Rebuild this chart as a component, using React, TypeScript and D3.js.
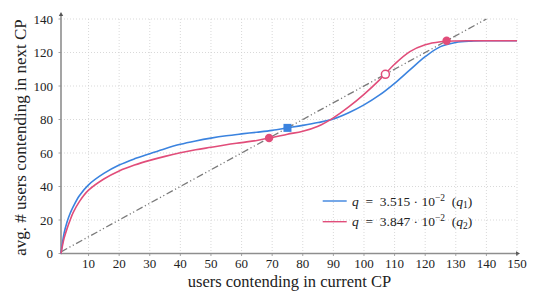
import React from "react";
import * as d3 from "d3";

const xValues = [1, 2, 3, 4, 5, 7, 10, 15, 20, 25, 30, 35, 40, 45, 50, 55, 60, 65, 70, 75, 80, 85, 90, 95, 100, 105, 110, 115, 120, 125, 130, 135, 140, 145, 150];
const q1Values = [0, 12, 19, 24, 28, 34.5, 41, 47.8, 52.8, 56.5, 59.6, 62.6, 65.2, 67.2, 68.9, 70.3, 71.4, 72.4, 73.5, 75, 76.5, 78.2, 80.3, 84, 88.7, 94.5, 101.6, 109.6, 117.5, 123.5, 126, 126.8, 127, 127, 127];
const q2Values = [0, 9, 15, 20, 24.5, 31, 37.8, 44.5, 49.3, 52.8, 55.6, 58, 60.1, 61.9, 63.4, 64.9, 66.2, 67.5, 69.2, 71.2, 73, 76, 81, 87.5, 95, 103.5, 113, 120.5, 124.6, 126.4, 126.9, 127, 127, 127, 127];
const diagonal = [1, 140];
const q1Stable = [75];
const q2Stable = [69, 127];
const q2Unstable = [107];
const xTicks = [10, 20, 30, 40, 50, 60, 70, 80, 90, 100, 110, 120, 130, 140, 150];
const yTicks = [0, 20, 40, 60, 80, 100, 120, 140];
const legendLabels = ["3.515", "3.847"];

const BLUE = "#3b83df";
const PINK = "#e14d7a";
const FONT = "'Liberation Serif', 'Times New Roman', serif";

export default function App() {
  const x = d3.scaleLinear().domain([1, 150]).range([61, 517]);
  const y = d3.scaleLinear().domain([0, 140]).range([253.5, 19]);

  const line = d3
    .line<[number, number]>()
    .x((d) => x(d[0]))
    .y((d) => y(d[1]))
    .curve(d3.curveCatmullRom.alpha(0.5));

  const s1 = xValues.map((v, i) => [v, q1Values[i]] as [number, number]);
  const s2 = xValues.map((v, i) => [v, q2Values[i]] as [number, number]);
  const diag = d3.line<number>().x((d) => x(d)).y((d) => y(d))(diagonal) || "";

  const x0 = x(1);
  const xEnd = x(150);
  const y0 = y(0);
  const yTop = y(140);

  return (
    <svg
      width={540}
      height={304}
      style={{ position: "absolute", left: 0, top: 0, background: "#fff" }}
    >
      {/* grid */}
      {xTicks.map((t) => (
        <line key={"gx" + t} x1={x(t)} x2={x(t)} y1={yTop} y2={y0} stroke="#cfcfcf" strokeWidth={0.8} strokeDasharray="1,2" />
      ))}
      {yTicks.filter((t) => t > 0).map((t) => (
        <line key={"gy" + t} x1={x0} x2={xEnd} y1={y(t)} y2={y(t)} stroke="#cfcfcf" strokeWidth={0.8} strokeDasharray="1,2" />
      ))}

      {/* axes */}
      <line x1={x0} x2={xEnd + 1} y1={y0} y2={y0} stroke="#8e8e8e" strokeWidth={1.6} />
      <path d={`M${xEnd + 3},${y0} L${xEnd - 1},${y0 - 2.2} L${xEnd - 1},${y0 + 2.2} Z`} fill="#555" />
      <line x1={x0} x2={x0} y1={y0 + 0.8} y2={yTop - 5} stroke="#8e8e8e" strokeWidth={1.6} />
      <path d={`M${x0},${yTop - 7} L${x0 - 2.2},${yTop - 3} L${x0 + 2.2},${yTop - 3} Z`} fill="#555" />

      {xTicks.map((t) => (
        <g key={"xt" + t}>
          <line x1={x(t)} x2={x(t)} y1={y0} y2={y0 + 2.5} stroke="#8e8e8e" strokeWidth={0.8} />
          <text x={x(t)} y={267.5} textAnchor="middle" fontFamily={FONT} fontSize={13} fill="#222">
            {t}
          </text>
        </g>
      ))}
      {yTicks.map((t) => (
        <g key={"yt" + t}>
          <line x1={x0 - 2.5} x2={x0} y1={y(t)} y2={y(t)} stroke="#8e8e8e" strokeWidth={0.8} />
          <text x={53} y={y(t) + 4.5} textAnchor="end" fontFamily={FONT} fontSize={13} fill="#222">
            {t}
          </text>
        </g>
      ))}

      {/* axis titles */}
      <text x={289.5} y={287} textAnchor="middle" fontFamily={FONT} fontSize={16.5} fill="#222">
        users contending in current CP
      </text>
      <text
        transform={`translate(26,137.5) rotate(-90)`}
        textAnchor="middle"
        fontFamily={FONT}
        fontSize={17}
        fill="#222"
      >
        avg. # users contending in next CP
      </text>

      {/* diagonal */}
      <path d={diag} fill="none" stroke="#7a7a7a" strokeWidth={1.3} strokeDasharray="7,2.6,1.2,2.6,1.2,2.6" />

      {/* curves */}
      <path d={line(s1) || ""} fill="none" stroke={BLUE} strokeWidth={1.6} />
      <path d={line(s2) || ""} fill="none" stroke={PINK} strokeWidth={1.6} />

      {/* markers */}
      {q1Stable.map((v) => (
        <rect key={"q1s" + v} x={x(v) - 4} y={y(v) - 4} width={8} height={8} fill={BLUE} />
      ))}
      {q2Stable.map((v) => (
        <circle key={"q2s" + v} cx={x(v)} cy={y(v)} r={4.2} fill={PINK} />
      ))}
      {q2Unstable.map((v) => (
        <circle key={"q2u" + v} cx={x(v)} cy={y(v)} r={4} fill="#fff" stroke={PINK} strokeWidth={1.5} />
      ))}

      {/* legend */}
      {legendLabels.map((lab, i) => {
        const ly = 201 + i * 20.7;
        return (
          <g key={"lg" + i}>
            <line x1={322.7} x2={346.7} y1={ly} y2={ly} stroke={i === 0 ? BLUE : PINK} strokeWidth={1.4} />
            <text x={352} y={ly + 4.5} fontFamily={FONT} fontSize={13.5} fill="#222" style={{ whiteSpace: "pre" }}>
              <tspan fontStyle="italic">q</tspan>
              <tspan>{"  =  " + lab + " · 10"}</tspan>
              <tspan fontSize={9.5} dy={-5}>{"−2"}</tspan>
              <tspan dy={5}>{"  ("}</tspan>
              <tspan fontStyle="italic">q</tspan>
              <tspan fontSize={9.5} dy={2.5}>{String(i + 1)}</tspan>
              <tspan dy={-2.5}>{")"}</tspan>
            </text>
          </g>
        );
      })}
    </svg>
  );
}
